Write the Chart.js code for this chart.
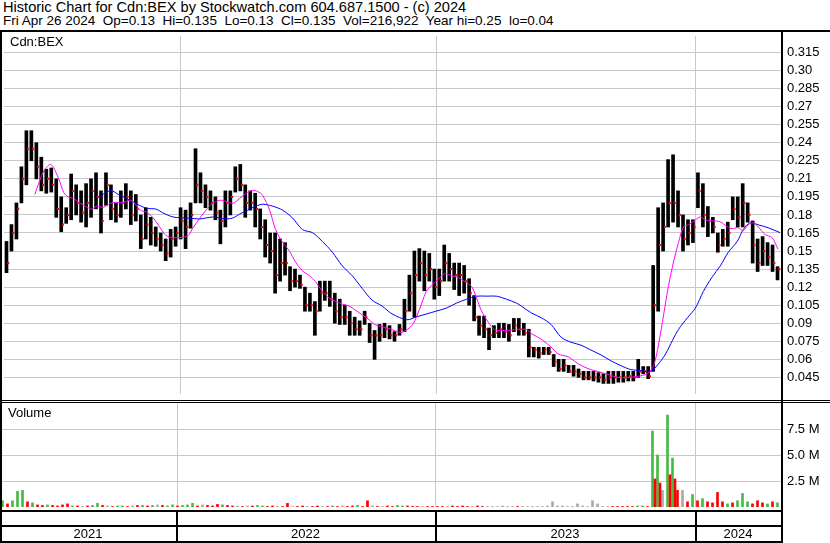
<!DOCTYPE html>
<html>
<head>
<meta charset="utf-8">
<script src="https://cdn.jsdelivr.net/npm/chart.js@4.4.1/dist/chart.umd.min.js"></script>
<style>
  body { margin: 0; width: 830px; height: 543px; background: #fff; position: relative; overflow: hidden;
         font-family: "Liberation Sans", Arial, sans-serif; font-size: 13px; color: #000; }
  canvas { position: absolute; left: 0; }
  .ln { position: absolute; background: #000; }
  .txt { position: absolute; white-space: pre; line-height: 14px; }
  .yr { position: absolute; top: 527px; height: 14px; line-height: 14px; text-align: center; }
</style>
</head>
<body>

<div class="txt" style="left:3px;top:0px;font-size:14.6px">Historic Chart for Cdn:BEX by Stockwatch.com 604.687.1500 - (c) 2024</div>
<div class="txt" style="left:3px;top:14px;font-size:13.5px">Fri Apr 26 2024  Op=0.13  Hi=0.135  Lo=0.13  Cl=0.135  Vol=216,922  Year hi=0.25  lo=0.04</div>

<canvas id="price" width="830" height="366" style="top:32px"></canvas>
<canvas id="volume" width="830" height="104" style="top:403px"></canvas>

<div class="txt" style="left:10px;top:35px">Cdn:BEX</div>
<div class="txt" style="left:8px;top:406px">Volume</div>

<div id="frame"></div>
<div id="years"></div>

<script>
// weekly bars, one per week, from spring 2021 to Apr 26 2024
const lo = [0.132,0.15,0.16,0.19,0.205,0.225,0.21,0.2,0.198,0.199,
  0.178,0.166,0.173,0.176,0.18,0.174,0.17,0.178,0.185,0.165,
  0.188,0.176,0.174,0.178,0.185,0.172,0.175,0.152,0.16,0.155,
  0.154,0.15,0.142,0.145,0.154,0.16,0.152,0.169,0.19,0.19,
  0.186,0.184,0.176,0.156,0.17,0.18,0.199,0.2,0.178,0.184,
  0.17,0.16,0.145,0.14,0.115,0.125,0.13,0.117,0.12,0.119,
  0.1,0.1,0.08,0.1,0.109,0.104,0.09,0.089,0.089,0.08,
  0.08,0.08,0.089,0.074,0.06,0.075,0.078,0.077,0.075,0.08,
  0.083,0.1,0.095,0.125,0.117,0.125,0.11,0.113,0.125,0.125,
  0.118,0.113,0.115,0.105,0.092,0.08,0.078,0.068,0.078,0.078,
  0.078,0.075,0.083,0.08,0.08,0.062,0.062,0.061,0.064,0.064,
  0.054,0.05,0.05,0.049,0.046,0.045,0.043,0.043,0.042,0.041,
  0.04,0.04,0.04,0.041,0.041,0.042,0.042,0.045,0.048,0.044,
  0.05,0.1,0.15,0.17,0.174,0.17,0.15,0.155,0.157,0.186,
  0.17,0.162,0.165,0.149,0.154,0.154,0.176,0.17,0.17,0.174,
  0.14,0.133,0.138,0.138,0.133,0.126];
const hi = [0.158,0.172,0.19,0.22,0.25,0.25,0.24,0.228,0.218,0.219,
  0.21,0.195,0.186,0.214,0.205,0.2,0.206,0.21,0.215,0.2,
  0.215,0.205,0.19,0.2,0.206,0.2,0.197,0.18,0.186,0.178,
  0.17,0.165,0.16,0.168,0.17,0.186,0.184,0.19,0.235,0.215,
  0.205,0.2,0.195,0.184,0.2,0.2,0.22,0.222,0.205,0.2,
  0.198,0.185,0.176,0.165,0.165,0.16,0.157,0.137,0.135,0.13,
  0.12,0.115,0.108,0.125,0.125,0.125,0.115,0.11,0.105,0.1,
  0.095,0.092,0.1,0.09,0.084,0.089,0.09,0.088,0.083,0.089,
  0.11,0.13,0.15,0.152,0.15,0.148,0.135,0.135,0.155,0.148,
  0.14,0.14,0.138,0.127,0.113,0.096,0.096,0.086,0.088,0.09,
  0.09,0.089,0.094,0.094,0.09,0.085,0.07,0.07,0.07,0.07,
  0.064,0.06,0.06,0.055,0.055,0.052,0.05,0.05,0.05,0.049,
  0.048,0.05,0.05,0.05,0.05,0.05,0.05,0.06,0.054,0.054,
  0.138,0.186,0.19,0.226,0.23,0.2,0.18,0.176,0.176,0.215,
  0.206,0.187,0.178,0.165,0.168,0.174,0.195,0.195,0.206,0.19,
  0.175,0.16,0.162,0.157,0.155,0.137];
const cl = [0.14,0.165,0.185,0.21,0.235,0.235,0.22,0.205,0.21,0.205,
  0.185,0.172,0.18,0.2,0.19,0.182,0.19,0.2,0.195,0.175,
  0.205,0.185,0.18,0.19,0.195,0.18,0.185,0.16,0.172,0.165,
  0.16,0.155,0.148,0.16,0.165,0.175,0.17,0.18,0.205,0.2,
  0.195,0.19,0.182,0.175,0.19,0.195,0.21,0.205,0.19,0.19,
  0.185,0.17,0.155,0.15,0.13,0.14,0.14,0.125,0.125,0.122,
  0.105,0.105,0.1,0.115,0.115,0.11,0.1,0.095,0.095,0.09,
  0.085,0.085,0.095,0.08,0.08,0.08,0.085,0.08,0.08,0.085,
  0.1,0.115,0.13,0.14,0.13,0.135,0.12,0.125,0.14,0.135,
  0.13,0.13,0.125,0.115,0.095,0.088,0.085,0.08,0.082,0.085,
  0.083,0.08,0.088,0.085,0.082,0.07,0.068,0.065,0.068,0.066,
  0.058,0.052,0.055,0.05,0.05,0.048,0.045,0.045,0.045,0.045,
  0.043,0.045,0.045,0.045,0.045,0.046,0.045,0.05,0.05,0.046,
  0.105,0.155,0.17,0.19,0.19,0.18,0.16,0.165,0.17,0.2,
  0.18,0.175,0.17,0.155,0.16,0.165,0.185,0.178,0.19,0.18,
  0.155,0.14,0.15,0.145,0.14,0.135];

// moving averages: [week, price]
const pinkMA = [[5.7,0.197],[6.9,0.211],[7.5,0.2165],[8.9,0.222],[10.5,0.21],[11.5,0.1987],[12.5,0.1946],
  [13.5,0.1938],[14.5,0.1905],[15.9,0.1872],[17.1,0.1848],[18.1,0.1872],[19.5,0.1864],[20.9,0.1897],
  [22.1,0.1905],[23.5,0.1905],[25.1,0.1922],[26.9,0.184],[28.1,0.1824],[29.5,0.1775],[30.9,0.1693],
  [32.1,0.1628],[33.5,0.1612],[34.9,0.1612],[36.5,0.1628],[37.5,0.1693],[38.9,0.1775],[40.1,0.184],
  [41.5,0.1897],[42.9,0.1922],[44.1,0.1913],[45.5,0.1897],[46.9,0.1938],[48.1,0.1979],[49.5,0.2003],
  [50.5,0.1995],[51.5,0.1962],[52.9,0.184],[54.1,0.1678],[55.5,0.1572],[56.9,0.1499],[58.1,0.1409],
  [59.5,0.1336],[60.9,0.1295],[62.1,0.1246],[63.5,0.1165],[64.9,0.1108],[66.1,0.1084],[67.5,0.1059],
  [68.9,0.1043],[70.1,0.101],[71.5,0.097],[72.9,0.0929],[74.1,0.0888],[75.5,0.0872],[76.9,0.0856],
  [78.5,0.0832],[79.5,0.0824],[81.5,0.0881],[82.5,0.0962],[83.5,0.1068],[84.5,0.1174],[85.5,0.1214],
  [86.9,0.1271],[88.1,0.1312],[89.5,0.1295],[90.9,0.1279],[92.1,0.1246],[93.5,0.1206],[94.5,0.1108],
  [95.5,0.1002],[96.9,0.0905],[98.1,0.0848],[99.5,0.084],[100.9,0.084],[102.5,0.0848],[104.5,0.0848],
  [105.5,0.0815],[107.5,0.0767],[109.5,0.0702],[110.9,0.0645],[112.9,0.0621],[114.9,0.0564],
  [116.9,0.0523],[118.9,0.0499],[120.9,0.0475],[122.9,0.045],[124.9,0.045],[126.9,0.0458],
  [128.9,0.0483],[130.1,0.0548],[131.1,0.0727],[132.1,0.097],[133.1,0.1214],[134.1,0.141],
  [135.1,0.1572],[136.1,0.1702],[137.1,0.1718],[138.5,0.1759],[139.5,0.1783],[140.5,0.1759],
  [141.9,0.1751],[143.5,0.1743],[144.9,0.1702],[145.9,0.1686],[147.1,0.1694],[148.1,0.167],
  [149.1,0.1718],[150.1,0.1735],[151.1,0.1702],[152.5,0.1637],[153.9,0.1612],[155.1,0.1515]];
const blueMA = [[18.5,0.1946],[20.9,0.2003],[22.5,0.197],[24.1,0.1938],[25.5,0.1905],[28.1,0.1856],
  [30.1,0.1848],[31.5,0.1816],[33.5,0.1783],[36.1,0.1775],[38.9,0.1767],[41.5,0.1783],[44.1,0.1767],
  [45.5,0.1775],[46.9,0.1808],[48.5,0.184],[50.1,0.1873],[51.5,0.1889],[53.5,0.1873],[55.5,0.184],
  [57.5,0.1775],[59.5,0.1678],[61.5,0.1653],[63.5,0.158],[65.5,0.1491],[67.5,0.1377],[69.5,0.1295],
  [71.5,0.119],[73.5,0.1092],[75.5,0.1043],[77.5,0.0978],[80.5,0.0929],[82.5,0.0954],[84.5,0.0978],
  [86.5,0.1002],[88.5,0.1027],[90.5,0.1068],[92.5,0.11],[94.5,0.1125],[96.5,0.1125],[98.5,0.1125],
  [100.5,0.11],[102.5,0.1068],[103.5,0.1043],[105.5,0.0986],[107.5,0.0946],[109.5,0.0889],
  [111.5,0.0783],[113.5,0.0742],[115.5,0.0718],[117.5,0.0677],[119.5,0.0637],[121.5,0.0588],
  [123.5,0.0548],[125.5,0.0515],[127.5,0.0507],[129.5,0.0499],[131.1,0.0564],[132.5,0.0645],
  [133.9,0.0759],[135.1,0.0849],[136.9,0.0946],[138.5,0.1027],[140.1,0.1165],[141.9,0.1287],
  [143.5,0.1377],[145.1,0.149],[146.9,0.158],[148.1,0.1678],[149.5,0.1735],[151.1,0.1718],
  [153.1,0.1694],[155.5,0.1653]];

// volume in millions, with direction g = up, r = down, n = unchanged
const vol = [0.6,0.3,0.6,1.5,1.6,0.5,0.4,0.2,0.15,0.2,
  0.15,0.1,0.2,0.3,0.1,0.1,0.05,0.1,0.15,0.35,
  0.15,0.1,0.05,0.1,0.1,0.05,0.1,0.15,0.15,0.1,
  0.15,0.2,0.15,0.1,0.2,0.1,0.15,0.2,0.35,0.1,
  0.2,0.15,0.1,0.25,0.2,0.15,0.1,0.1,0.05,0.1,
  0.1,0.15,0.1,0.05,0.1,0.05,0.05,0.35,0.05,0.05,
  0.1,0.05,0.05,0.1,0.05,0.05,0.1,0.05,0.1,0.05,
  0.1,0.15,0.05,0.6,0.1,0.05,0.05,0.1,0.05,0.15,
  0.1,0.1,0.05,0.05,0.05,0.05,0.05,0.05,0.05,0.05,
  0.1,0.05,0.1,0.05,0.05,0.1,0.05,0.05,0.05,0.05,
  0.1,0.05,0.05,0.05,0.05,0.05,0.05,0.05,0.05,0.1,
  0.5,0.1,0.1,0.05,0.05,0.3,0.1,0.05,0.6,0.3,
  0.05,0.05,0.05,0.05,0.05,0.05,0.05,0.1,0.1,0.05,
  7.3,5.0,1.6,8.85,4.7,1.6,1.6,0.5,1.2,0.6,
  0.8,0.5,0.4,1.4,0.5,0.3,0.4,0.6,1.3,0.5,
  0.3,0.6,0.4,0.3,0.5,0.4];
const volDir = 'grgggrgrrg' + 'rrrrgrnrgg' + 'rnrggrnrgr' + 'gnrggrgggr' + 'nrrrgrrnrn' +
  'rggrrnrrnr' + 'rnrrnrgrnr' + 'rgrrnrnrrg' + 'grrrnrrrrn' + 'rrrrnrrnnn' +
  'nnnrnnnnnn' + 'nnnnnnnnnn' + 'nnrrrrrggr' + 'ggnggrnrgr' + 'grrrrgrggg' + 'rrrgrg';
// down-day volume inside the autumn 2023 spike
const spikeDownWeek = [130.5, 131.5, 133.5, 134.5];
const spikeDownVol = [2.7, 2.3, 3.1, 2.7];

const priceTicks = [0.045,0.06,0.075,0.09,0.105,0.12,0.135,0.15,0.165,0.18,0.195,0.21,0.225,0.24,0.255,0.27,0.285,0.30,0.315];
const volTicks = [2.5, 5.0, 7.5];
const years = ['2021', '2022', '2023', '2024'];
const yearStart = [34.9, 86.5, 138.5];   // week index where each new year begins

Chart.defaults.font.family = '"Liberation Sans", Arial, sans-serif';
Chart.defaults.font.size = 13;
Chart.defaults.color = '#000';
Chart.defaults.animation = false;

const X_MIN = -0.5, X_MAX = 155.7;
const gridGrey = '#c8c8c8';

function timeAxis() {
  return {
    type: 'linear', min: X_MIN, max: X_MAX, offset: false,
    afterBuildTicks: s => { s.ticks = yearStart.map(v => ({ value: v })); },
    afterFit: s => { s.height = 0; },
    ticks: { display: false },
    grid: { color: gridGrey, drawTicks: false, offset: false },
    border: { display: false }
  };
}

// right-hand value axis that fills the full panel height
function valueAxis(min, max, ticks, fmt) {
  return {
    position: 'right', min: min, max: max,
    afterBuildTicks: s => { s.ticks = ticks.map(v => ({ value: v })); },
    afterFit: s => { s.width = 49; s.paddingTop = 0; s.paddingBottom = 0; },
    ticks: { padding: 6, autoSkip: false, callback: fmt },
    grid: { color: gridGrey, drawTicks: false },
    border: { display: false }
  };
}

function trimZero(v) {
  const s = v.toFixed(3);
  return s.endsWith('0') ? s.slice(0, -1) : s;
}

new Chart(document.getElementById('price'), {
  type: 'bar',
  data: {
    datasets: [
      { type: 'line', data: pinkMA.map(p => ({ x: p[0], y: p[1] })), borderColor: '#ff00ff', borderWidth: 1,
        pointRadius: 0, tension: 0.3, order: 0 },
      { type: 'line', data: blueMA.map(p => ({ x: p[0], y: p[1] })), borderColor: '#0000ff', borderWidth: 1,
        pointRadius: 0, tension: 0.3, order: 0 },
      { type: 'scatter', data: cl.map((c, i) => ({ x: i + 0.35, y: c })), backgroundColor: '#ff0000',
        pointStyle: 'rect', pointRadius: 1.5, borderWidth: 0, order: 1 },
      { type: 'bar', data: hi.map((h, i) => ({ x: i, y: [lo[i], h] })), backgroundColor: '#000',
        barThickness: 3, grouped: false, order: 2 }
    ]
  },
  options: {
    responsive: false,
    layout: { padding: 0 },
    plugins: { legend: { display: false }, tooltip: { enabled: false } },
    scales: {
      x: timeAxis(),
      y: valueAxis(0.0312, 0.3287, priceTicks, v => trimZero(v))
    }
  }
});

const volColor = { g: '#44bb44', r: '#ff0000', n: '#aaaaaa' };
new Chart(document.getElementById('volume'), {
  type: 'bar',
  data: {
    datasets: [
      { data: spikeDownVol.map((v, i) => ({ x: spikeDownWeek[i], y: v })), backgroundColor: '#ff0000',
        barThickness: 2, grouped: false, order: 0 },
      { data: vol.map((v, i) => ({ x: i, y: v })), backgroundColor: vol.map((v, i) => volColor[volDir[i]]),
        barThickness: 2, grouped: false, order: 1 }
    ]
  },
  options: {
    responsive: false,
    layout: { padding: 0 },
    plugins: { legend: { display: false }, tooltip: { enabled: false } },
    scales: {
      x: timeAxis(),
      y: valueAxis(0, 10.0, volTicks, v => v.toFixed(1) + ' M')
    }
  }
});

// frame lines and year band
const frame = document.getElementById('frame');
function line(l, t, w, h) {
  const d = document.createElement('div');
  d.className = 'ln';
  d.style.cssText = `left:${l}px;top:${t}px;width:${w}px;height:${h}px`;
  frame.appendChild(d);
}
line(0, 30, 830, 2);
line(0, 32, 2, 511);
line(781, 32, 2, 511);
line(0, 400, 830, 1);
line(0, 402, 830, 1);
line(0, 510, 783, 2);
line(0, 525, 783, 2);
line(0, 541, 783, 2);

const bounds = [0, 176, 435, 695, 781];
const yrBox = document.getElementById('years');
years.forEach((y, i) => {
  const d = document.createElement('div');
  d.className = 'yr';
  d.style.left = bounds[i] + 'px';
  d.style.width = (bounds[i + 1] - bounds[i]) + 'px';
  d.textContent = y;
  yrBox.appendChild(d);
  if (i > 0) line(bounds[i], 510, 2, 33);
});
</script>
</body>
</html>
